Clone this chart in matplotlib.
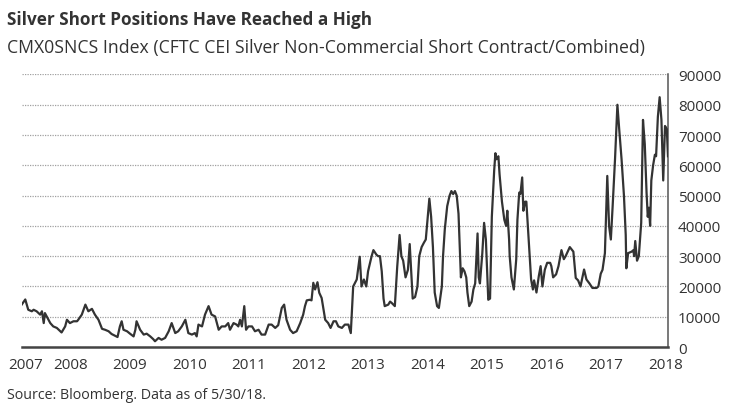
import matplotlib
matplotlib.use('Agg')
import matplotlib.pyplot as plt

plt.rcParams['font.family'] = ['Open Sans', 'DejaVu Sans']

TITLE = 'Silver Short Positions Have Reached a High'
SUBTITLE = 'CMX0SNCS Index (CFTC CEI Silver Non-Commercial Short Contract/Combined)'
SOURCE = 'Source: Bloomberg. Data as of 5/30/18.'

# weekly-ish readings: (fractional year, contracts)
YEARS = [
    2007.18, 2007.24, 2007.29, 2007.35, 2007.38, 2007.43, 2007.49, 2007.52, 2007.55, 2007.57,
    2007.63, 2007.66, 2007.71, 2007.77, 2007.83, 2007.85, 2007.91, 2007.94, 2007.99, 2008.05,
    2008.11, 2008.13, 2008.19, 2008.25, 2008.30, 2008.36, 2008.41, 2008.47, 2008.53, 2008.58,
    2008.64, 2008.69, 2008.75, 2008.79, 2008.83, 2008.86, 2008.89, 2008.95, 2009.00, 2009.06,
    2009.09, 2009.11, 2009.17, 2009.23, 2009.28, 2009.34, 2009.39, 2009.42, 2009.48, 2009.53,
    2009.59, 2009.65, 2009.70, 2009.76, 2009.81, 2009.87, 2009.93, 2009.98, 2010.04, 2010.09,
    2010.12, 2010.15, 2010.21, 2010.26, 2010.32, 2010.37, 2010.43, 2010.49, 2010.54, 2010.60,
    2010.65, 2010.68, 2010.74, 2010.79, 2010.82, 2010.85, 2010.88, 2010.92, 2010.95, 2010.99,
    2011.05, 2011.10, 2011.16, 2011.21, 2011.27, 2011.33, 2011.38, 2011.44, 2011.49, 2011.55,
    2011.59, 2011.63, 2011.69, 2011.74, 2011.80, 2011.86, 2011.91, 2011.94, 2011.97, 2012.02,
    2012.05, 2012.08, 2012.11, 2012.15, 2012.18, 2012.22, 2012.28, 2012.33, 2012.37, 2012.42,
    2012.46, 2012.50, 2012.56, 2012.61, 2012.67, 2012.71, 2012.75, 2012.81, 2012.86, 2012.89,
    2012.93, 2012.97, 2013.00, 2013.06, 2013.09, 2013.14, 2013.17, 2013.20, 2013.23, 2013.26,
    2013.28, 2013.34, 2013.37, 2013.40, 2013.45, 2013.49, 2013.53, 2013.56, 2013.59, 2013.63,
    2013.67, 2013.70, 2013.75, 2013.79, 2013.83, 2013.86, 2013.90, 2013.94, 2013.97, 2014.03,
    2014.06, 2014.09, 2014.12, 2014.16, 2014.19, 2014.24, 2014.26, 2014.29, 2014.33, 2014.37,
    2014.40, 2014.43, 2014.46, 2014.49, 2014.52, 2014.56, 2014.59, 2014.62, 2014.65, 2014.67,
    2014.70, 2014.74, 2014.77, 2014.80, 2014.84, 2014.86, 2014.88, 2014.92, 2014.95, 2014.98,
    2015.02, 2015.05, 2015.08, 2015.12, 2015.14, 2015.16, 2015.19, 2015.21, 2015.25, 2015.29,
    2015.32, 2015.34, 2015.37, 2015.38, 2015.41, 2015.45, 2015.49, 2015.51, 2015.54, 2015.56,
    2015.59, 2015.61, 2015.64, 2015.66, 2015.71, 2015.74, 2015.77, 2015.79, 2015.83, 2015.87,
    2015.90, 2015.93, 2015.97, 2016.01, 2016.06, 2016.08, 2016.11, 2016.16, 2016.20, 2016.25,
    2016.29, 2016.32, 2016.39, 2016.45, 2016.49, 2016.53, 2016.57, 2016.63, 2016.67, 2016.72,
    2016.77, 2016.84, 2016.87, 2016.91, 2016.94, 2016.98, 2017.02, 2017.05, 2017.08, 2017.11,
    2017.15, 2017.19, 2017.22, 2017.26, 2017.30, 2017.33, 2017.34, 2017.37, 2017.43, 2017.46,
    2017.47, 2017.49, 2017.52, 2017.55, 2017.59, 2017.62, 2017.65, 2017.68, 2017.70, 2017.72,
    2017.74, 2017.76, 2017.79, 2017.82, 2017.84, 2017.87, 2017.90, 2017.93, 2017.96, 2017.99,
    2018.02, 2018.04,
]
SHORTS = [
    14000, 15700, 12300, 11800, 12300, 11800, 10700, 11800, 7900, 11200,
    9000, 7900, 6800, 6300, 5200, 4800, 6800, 9000, 7900, 8500,
    8500, 9000, 10700, 14000, 11800, 12600, 10700, 9000, 6000, 5700,
    5200, 4300, 3700, 3300, 6800, 8500, 5700, 5200, 4400, 3500,
    5700, 8500, 5700, 4100, 4400, 3500, 2600, 1900, 3000, 2400,
    3000, 5200, 7900, 4600, 5200, 6800, 9000, 4600, 4100, 4600,
    3500, 7400, 6800, 10700, 13500, 10700, 10100, 5700, 6800, 6800,
    7900, 5700, 7900, 7400, 6800, 9000, 6800, 13500, 5700, 6800,
    6800, 5200, 5700, 4100, 4100, 7400, 7400, 6300, 7200, 12900,
    14000, 9000, 5700, 4600, 5200, 7900, 10700, 13500, 15400, 15600,
    15400, 21200, 19000, 21400, 17900, 16200, 9000, 7900, 6300, 8500,
    8500, 6800, 6300, 7400, 7400, 4600, 20000, 22300, 29800, 20000,
    22300, 20000, 25000, 30000, 32000, 30500, 30000, 30000, 25000, 16000,
    13500, 14000, 15000, 14500, 13500, 26500, 37000, 30000, 28500, 23000,
    25500, 34000, 16000, 16500, 20000, 30000, 33000, 34500, 35500, 49000,
    43000, 33000, 18000, 13500, 12900, 20000, 30000, 39000, 46500, 50000,
    51500, 50500, 51500, 50000, 44000, 23000, 26000, 25000, 23000, 18000,
    13500, 15000, 19000, 21000, 37500, 23000, 21000, 31000, 41000, 35500,
    15600, 16000, 43000, 58500, 64000, 62000, 63000, 57000, 48000, 42000,
    40000, 45000, 35500, 30000, 23000, 19000, 29000, 42000, 51000, 50500,
    56000, 45000, 48000, 48000, 32000, 22300, 19000, 22000, 18000, 23500,
    26700, 20000, 25500, 27800, 27800, 26700, 23000, 24000, 26700, 32000,
    29000, 30000, 33000, 31500, 22800, 22000, 20000, 25600, 22300, 21000,
    19500, 19500, 20000, 24200, 25500, 31000, 56500, 40000, 35500, 46500,
    62000, 80000, 72000, 62000, 50000, 37000, 26000, 31000, 31500, 32000,
    30000, 35000, 28500, 30000, 41000, 75000, 67000, 51000, 43000, 46000,
    40000, 55000, 60000, 63500, 63000, 76000, 82500, 75000, 55000, 73000,
    72000, 63000,
]

TICK_POS = [2007.25, 2008, 2009, 2010, 2011, 2012, 2013, 2014, 2015, 2016, 2017, 2018]
TICK_LABELS = ['2007', '2008', '2009', '2010', '2011', '2012',
               '2013', '2014', '2015', '2016', '2017', '2018']
Y_TICKS = list(range(0, 90001, 10000))

TEXT = '#333333'


def main():
    fig = plt.figure(figsize=(7.31, 4.10), dpi=100)
    ax = fig.add_axes([0.0297, 0.1512, 0.8845, 0.6647])

    ax.plot(YEARS, SHORTS, color='#333333', linewidth=1.6, zorder=3)

    ax.set_xlim(YEARS[0], YEARS[-1] + 0.005)
    ax.set_ylim(0, 90000)
    ax.set_xticks(TICK_POS)
    ax.set_xticklabels(TICK_LABELS)
    ax.set_yticks(Y_TICKS)
    ax.set_yticklabels([str(v) for v in Y_TICKS])
    ax.yaxis.tick_right()
    ax.tick_params(axis='both', length=0, labelsize=11, colors=TEXT)
    ax.tick_params(axis='x', pad=7)
    ax.tick_params(axis='y', pad=7)
    for lbl in ax.get_yticklabels():
        lbl.set_horizontalalignment('left')

    ax.grid(axis='y', color='#a0a0a0', linestyle=(0, (1, 1)), linewidth=0.9)
    ax.set_axisbelow(True)
    for side in ('top', 'left'):
        ax.spines[side].set_visible(False)
    ax.spines['bottom'].set_color('#444444')
    ax.spines['bottom'].set_linewidth(1.8)
    ax.spines['right'].set_color('#555555')
    ax.spines['right'].set_linewidth(1.1)

    fig.text(7 / 731, 1 - 25 / 410, TITLE, fontsize=12.3, fontweight='bold',
             color=TEXT, va='baseline', ha='left')
    fig.text(7 / 731, 1 - 53 / 410, SUBTITLE, fontsize=12.7,
             color=TEXT, va='baseline', ha='left')
    fig.text(7 / 731, 1 - 399 / 410, SOURCE, fontsize=10.3,
             color=TEXT, va='baseline', ha='left')

    fig.savefig('out.png', dpi=100, facecolor='white')
    plt.close(fig)


if __name__ == '__main__':
    main()
